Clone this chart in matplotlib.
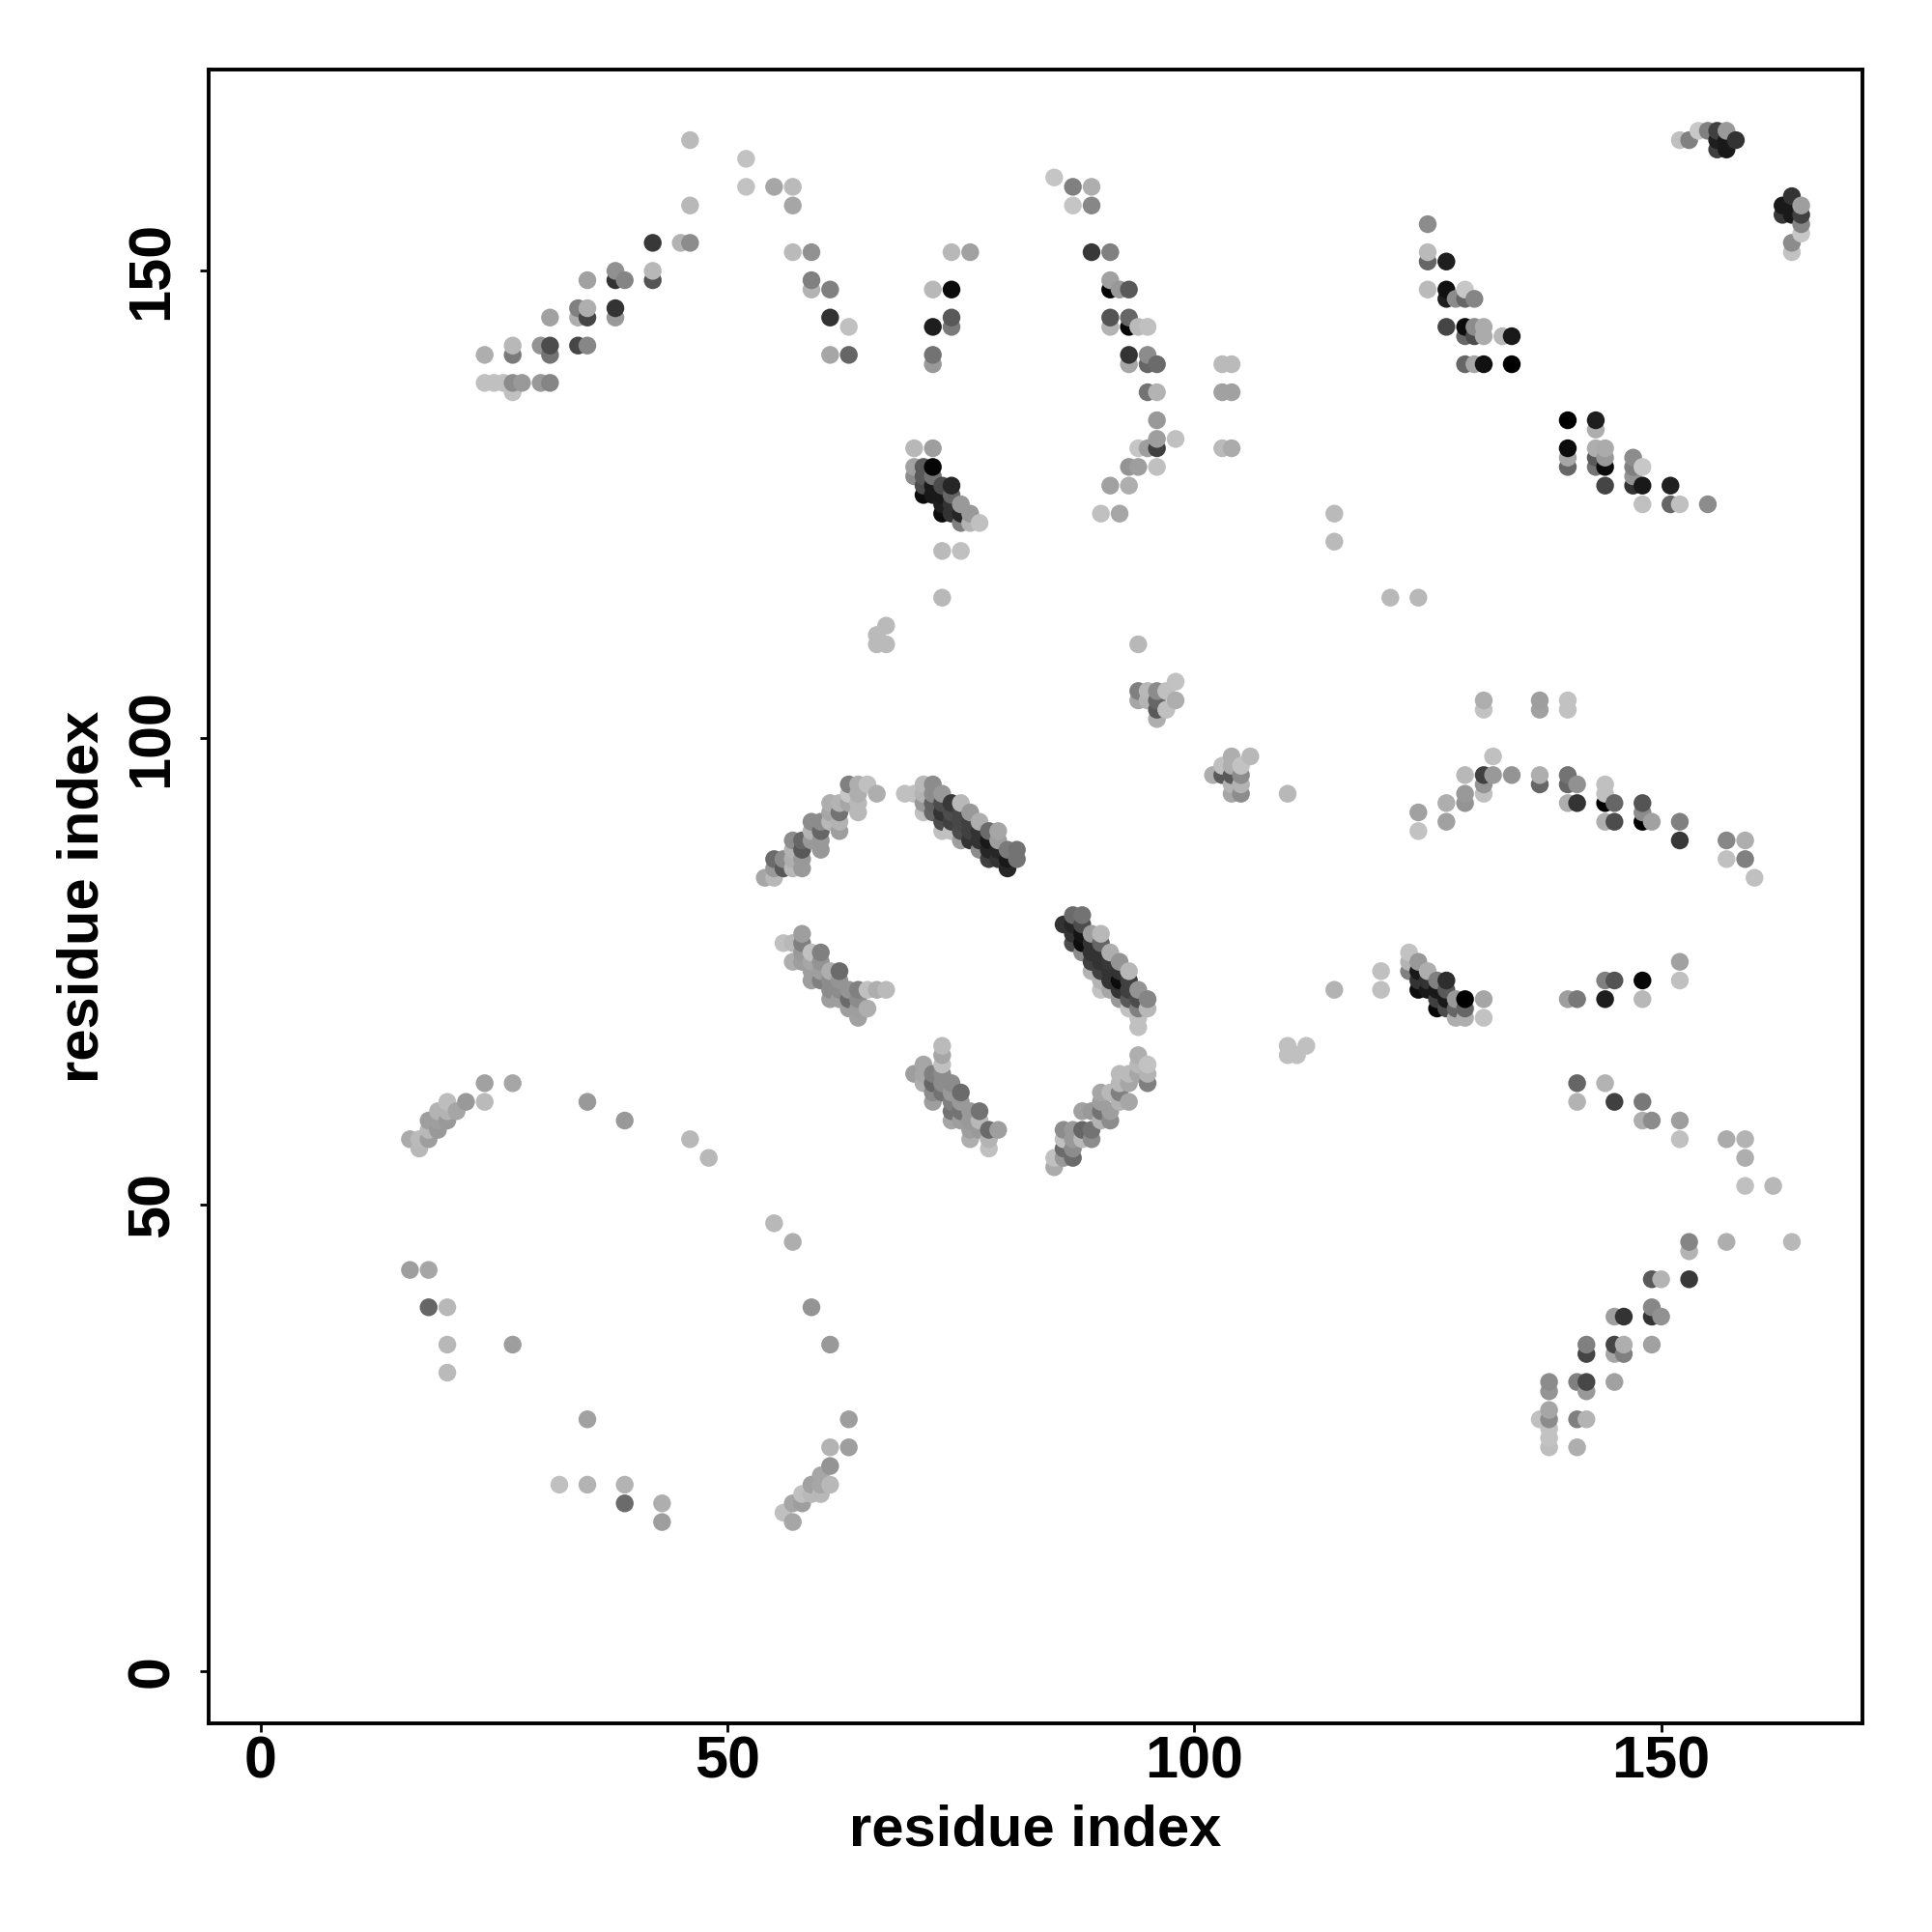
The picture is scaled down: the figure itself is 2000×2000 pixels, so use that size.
import numpy as np
import matplotlib
matplotlib.use("Agg")
import matplotlib.pyplot as plt

plt.rcParams["font.family"] = ["Liberation Sans", "DejaVu Sans"]
plt.rcParams["font.weight"] = "bold"

# (residue i, residue j, grey level), one list per region
upper_left = [
    (46,164,.73),(52,162,.76),(52,159,.76),(55,159,.65),(57,159,.73),(57,157,.65),(46,157,.72),
    (42,153,.22),(45,153,.70),(46,153,.55),(57,152,.73),(59,152,.57),(38,150,.57),(38,149,.2),
    (39,149,.52),(42,149,.33),(42,150,.72),(35,149,.63),(59,149,.5),(59,148,.7),(61,148,.5),
    (34,146,.5),(35,146,.68),(35,145,.27),(34,145,.68),(38,146,.2),(38,145,.6),(61,145,.2),
    (63,144,.75),(31,145,.63),(30,142,.58),(31,142,.3),(31,141,.45),(34,142,.28),(35,142,.53),
    (27,142,.72),(27,141,.48),(24,141,.68),(61,141,.65),(63,141,.4),(24,138,.75),(25,138,.75),
    (26,138,.75),(27,138,.55),(28,138,.6),(30,138,.6),(31,138,.52),(27,137,.75),
]
upper_mid = [
    (85,160,.77),(87,159,.5),(89,159,.68),(87,157,.77),(89,157,.53),(74,152,.72),(76,152,.63),
    (89,152,.22),(91,152,.5),(72,148,.72),(74,148,.05),(91,149,.63),(91,148,.02),(92,148,.6),
    (93,148,.35),(72,144,.12),(74,144,.48),(74,145,.35),(91,145,.33),(91,144,.7),(93,145,.4),
    (93,144,.02),(94,144,.73),(95,144,.75),(72,141,.45),(72,140,.6),(93,141,.2),(93,140,.65),
    (95,141,.55),(95,140,.4),(96,140,.42),(103,140,.73),(104,140,.73),(95,137,.45),(96,137,.7),
    (103,137,.63),(104,137,.63),(96,134,.6),(96,132,.62),(96,131,.25),(98,132,.75),(94,131,.77),
    (95,131,.62),(103,131,.73),(104,131,.67),(93,129,.58),(94,129,.62),(96,129,.75),(91,127,.63),
    (93,127,.68),(90,124,.75),(92,124,.65),
]
helix_top = [
    (70,131,.72),(72,131,.62),(70,129,.63),(71,129,.35),(72,129,.02),(70,128,.55),(71,128,.35),
    (72,128,.45),(71,127,.3),(71,126,.05),(72,127,.1),(72,126,.1),(73,127,.3),(74,127,.15),
    (73,126,.1),(74,126,.4),(73,125,.12),(74,125,.2),(75,125,.6),(73,124,.05),(74,124,.2),
    (75,124,.15),(76,124,.6),(75,123,.5),(76,123,.7),(77,123,.75),(73,120,.73),(75,120,.75),
    (73,115,.72),
]
upper_right = [
    (125,155,.55),(125,152,.73),(125,151,.4),(127,151,.12),(125,148,.73),(127,148,.07),
    (127,147,.12),(128,147,.55),(129,147,.4),(129,148,.78),(130,147,.52),(127,144,.27),
    (129,144,.05),(130,144,.55),(131,144,.67),(129,143,.4),(130,143,.3),(131,143,.67),
    (133,143,.72),(134,143,.1),(129,140,.4),(130,140,.65),(131,140,.07),(134,140,.0),
    (140,134,.0),(143,134,.12),(143,133,.68),(140,131,.05),(140,130,.65),(140,129,.4),
    (143,131,.68),(144,131,.67),(143,130,.35),(144,130,.6),(143,129,.45),(144,129,.05),
    (144,127,.27),(147,130,.55),(147,129,.5),(148,129,.78),(147,128,.58),(147,127,.2),
    (148,127,.1),(151,127,.13),(148,125,.75),(151,125,.4),(152,125,.75),(155,125,.55),
]
corner_top = [
    (152,164,.75),(153,164,.5),(154,165,.78),(155,165,.5),(156,165,.25),(156,164,.12),
    (157,165,.6),(157,164,.1),(156,163,.25),(157,163,.1),(158,164,.2),(164,158,.2),(163,157,.1),
    (164,157,.1),(165,157,.62),(163,156,.22),(164,156,.1),(165,156,.25),(165,155,.52),
    (165,154,.78),(164,153,.55),(164,152,.76),
]
sparse_mid = [
    (115,124,.73),(115,121,.73),(121,115,.72),(124,115,.72),(67,112,.73),(66,111,.73),
    (67,110,.73),(66,110,.73),(94,110,.72),(94,105,.5),(94,104,.65),(95,105,.72),(95,104,.7),
    (96,105,.55),(96,104,.4),(96,103,.35),(96,102,.68),(97,105,.75),(97,103,.75),(98,106,.76),
    (98,104,.68),(102,96,.68),(103,97,.75),(103,96,.35),(104,98,.68),(104,97,.68),(104,96,.35),
    (104,95,.7),(104,94,.65),(105,97,.76),(105,96,.55),(105,95,.7),(105,94,.55),(106,98,.72),
    (110,94,.72),
]
arc_right = [
    (124,92,.63),(124,90,.76),(127,93,.68),(127,91,.63),(129,94,.6),(129,93,.58),(129,96,.72),
    (131,96,.25),(131,95,.58),(131,94,.75),(132,98,.75),(132,96,.6),(134,96,.58),(131,104,.68),
    (131,103,.76),(137,104,.62),(137,103,.63),(140,104,.76),(140,103,.76),(137,96,.68),
    (137,95,.4),(140,96,.45),(140,95,.4),(141,95,.57),(140,93,.68),(141,93,.2),(144,95,.75),
    (144,94,.75),(144,93,.0),(145,93,.4),(144,91,.68),(145,91,.3),(148,93,.33),(148,92,.55),
    (148,91,.0),(149,91,.63),(152,91,.5),(152,89,.22),(157,89,.53),(159,89,.68),(157,87,.75),
    (159,87,.5),(160,85,.75),
]
blob_left = [
    (54,85,.65),(55,85,.72),(55,87,.42),(55,86,.6),(56,87,.55),(56,86,.35),(57,86,.72),
    (57,89,.55),(58,89,.4),(58,88,.35),(58,87,.6),(58,86,.6),(57,88,.7),(57,87,.68),
    (59,91,.55),(60,91,.55),(59,90,.7),(60,90,.4),(59,89,.6),(60,89,.6),(60,88,.6),
    (61,93,.68),(62,93,.7),(61,92,.65),(62,92,.45),(61,91,.72),(62,91,.7),(62,90,.62),
    (63,95,.5),(64,95,.68),(65,95,.75),(63,94,.78),(64,94,.68),(66,94,.68),(63,93,.65),
    (64,93,.72),(64,92,.72),
]
blob_right = [
    (69,94,.75),(70,94,.75),(71,95,.72),(72,95,.55),(73,94,.6),(75,93,.72),(76,92,.6),
    (77,91,.68),(78,90,.42),(79,90,.65),(79,89,.62),(80,88,.48),(81,88,.45),(81,87,.45),
    (80,86,.15),(71,94,.7),(71,93,.6),(72,94,.55),(72,93,.38),(72,92,.4),(71,92,.75),
    (73,93,.3),(73,92,.2),(73,91,.3),(73,90,.75),(74,90,.75),(74,93,.22),(74,92,.3),(74,91,.25),
    (75,92,.28),(75,91,.28),(75,90,.3),(75,89,.62),(76,91,.25),(76,90,.25),(76,89,.2),
    (77,90,.2),(77,89,.2),(77,88,.55),(78,89,.1),(78,88,.15),(78,87,.25),(79,88,.15),
    (79,87,.2),(80,87,.1),
]
blob_a = [
    (56,78,.75),(57,78,.72),(58,79,.62),(58,78,.5),(58,77,.6),(57,76,.68),(58,76,.62),
    (59,77,.75),(60,77,.5),(59,76,.65),(60,76,.58),(59,75,.62),(60,75,.62),(59,74,.62),
    (60,74,.5),(61,75,.68),(62,75,.42),(61,74,.55),(62,74,.58),(61,73,.55),(62,73,.55),
    (61,72,.62),(62,72,.62),(63,73,.58),(64,73,.5),(65,73,.75),(66,73,.68),(67,73,.73),
    (63,72,.42),(64,72,.55),(63,71,.62),(64,71,.62),(65,71,.68),(64,70,.63),
]
blob_b = [
    (70,64,.62),(71,65,.65),(71,64,.65),(71,63,.68),(73,67,.73),(73,66,.65),(73,65,.75),
    (72,64,.5),(73,64,.55),(72,63,.4),(73,63,.55),(72,62,.55),(73,62,.45),(72,61,.62),
    (74,63,.55),(75,62,.42),(74,62,.6),(74,61,.5),(75,61,.6),(74,60,.45),(75,60,.45),
    (74,59,.65),(75,59,.62),(76,60,.6),(77,60,.45),(76,59,.6),(77,59,.72),(76,58,.62),
    (77,58,.6),(78,58,.42),(79,58,.62),(76,57,.68),(78,57,.7),(78,56,.75),
]
blob_c = [
    (85,54,.67),(85,55,.75),(86,55,.6),(87,55,.42),(86,56,.42),(87,56,.55),(86,57,.75),
    (87,57,.6),(86,58,.55),(87,58,.6),(88,58,.4),(89,57,.55),(88,57,.72),(89,58,.45),
    (88,60,.63),(89,60,.6),(90,60,.45),(90,61,.62),(91,59,.55),(91,60,.62),(90,59,.7),
    (90,62,.65),(91,62,.72),(92,62,.5),(92,61,.7),(93,61,.65),(92,63,.72),(92,64,.73),
    (93,64,.73),(93,63,.65),(94,66,.68),(94,65,.72),(94,64,.65),(95,65,.76),(95,64,.7),
    (95,63,.5),
]
blob_d = [
    (86,80,.2),(87,81,.42),(88,81,.45),(87,80,.15),(87,79,.2),(87,78,.3),(88,80,.3),(88,79,.08),
    (88,78,.05),(88,77,.55),(89,79,.62),(90,79,.72),(89,78,.2),(90,78,.4),(89,77,.2),(89,76,.25),
    (89,75,.7),(90,77,.2),(90,76,.2),(90,75,.25),(90,74,.7),(90,73,.76),(91,77,.68),(91,76,.22),
    (91,75,.2),(91,74,.2),(91,73,.65),(92,76,.58),(92,75,.2),(92,74,.05),(92,73,.2),(92,72,.6),
    (93,75,.72),(93,74,.25),(93,73,.25),(93,72,.35),(93,71,.76),(94,73,.58),(94,72,.3),
    (94,71,.5),(94,70,.75),(94,69,.75),(95,72,.52),(95,71,.72),
]
blob_e = [
    (120,75,.75),(120,73,.75),(123,77,.76),(123,76,.7),(123,75,.5),(124,76,.6),(124,75,.1),
    (124,74,.2),(124,73,.05),(125,75,.68),(125,74,.2),(125,73,.1),(126,74,.5),(126,73,.1),
    (126,72,.25),(126,71,.03),(127,74,.18),(127,73,.35),(127,72,.1),(127,71,.3),(128,72,.6),
    (128,71,.4),(128,70,.68),(129,72,.0),(129,71,.4),(129,70,.68),(131,72,.65),(131,70,.76),
    (140,72,.62),(141,72,.47),(144,74,.5),(145,74,.33),(144,72,.12),(148,74,.03),(148,72,.72),
    (152,76,.63),(152,74,.75),(115,73,.7),(110,67,.75),(111,66,.75),(112,67,.75),(110,66,.75),
]
lower_right = [
    (141,63,.4),(141,61,.7),(144,63,.7),(145,61,.25),(148,61,.47),(148,59,.68),(149,59,.55),
    (152,59,.62),(152,57,.75),(157,57,.67),(159,57,.7),(159,55,.68),(159,52,.75),(162,52,.72),
    (153,46,.52),(153,45,.7),(157,46,.68),(164,46,.72),(149,42,.35),(150,42,.7),(153,42,.22),
    (145,38,.62),(146,38,.2),(149,38,.2),(149,39,.53),(150,38,.57),(142,35,.5),(142,34,.27),
    (145,35,.27),(145,34,.65),(146,35,.68),(146,34,.5),(149,35,.63),(138,31,.55),(138,30,.58),
    (141,31,.5),(142,31,.28),(142,30,.6),(145,31,.63),(137,27,.75),(138,28,.65),(138,27,.55),
    (138,26,.76),(138,25,.76),(138,24,.74),(141,27,.5),(142,27,.7),(141,24,.68),
]
lower_left = [
    (24,63,.63),(27,63,.65),(24,61,.73),(22,61,.6),(20,61,.74),(21,60,.65),(19,60,.7),(20,60,.7),
    (18,59,.62),(19,59,.62),(20,59,.6),(19,58,.6),(18,58,.72),(16,57,.67),(17,57,.73),(18,57,.62),
    (17,56,.72),(35,61,.6),(39,59,.6),(46,57,.72),(48,55,.72),(55,48,.72),(16,43,.62),(18,43,.65),
    (18,39,.4),(20,39,.72),(20,35,.72),(27,35,.62),(20,32,.73),(57,46,.68),(59,39,.58),(61,35,.6),
    (35,27,.63),(63,27,.62),(61,24,.7),(63,24,.62),(32,20,.75),(35,20,.7),(39,20,.7),(39,18,.42),
    (43,18,.68),(43,16,.62),(56,17,.75),(57,18,.65),(57,16,.65),(58,19,.75),(58,18,.62),(59,19,.72),
    (59,20,.63),(60,19,.72),(60,20,.65),(61,20,.72),(61,22,.58),(60,21,.65),
]

regions = [upper_left, upper_mid, helix_top, upper_right, corner_top, sparse_mid, arc_right,
           blob_left, blob_right, blob_a, blob_b, blob_c, blob_d, blob_e, lower_right, lower_left]


def main():
    pts = np.array([p for region in regions for p in region])
    # the original draws pairs sorted by i then j, later ones on top
    order = np.lexsort((pts[:, 1], pts[:, 0]))
    pts = pts[order]

    fig = plt.figure(figsize=(10, 10), dpi=200)
    ax = fig.add_axes([0.108, 0.108, 0.856, 0.856])

    ax.scatter(
        pts[:, 0], pts[:, 1],
        c=pts[:, 2], cmap="gray", vmin=0, vmax=1,
        s=44, linewidths=0, clip_on=True
    )

    ax.set_xlim(-5.56, 171.56)
    ax.set_ylim(-5.56, 171.56)
    ax.set_xticks([0, 50, 100, 150])
    ax.set_yticks([0, 50, 100, 150])
    ax.tick_params(axis="both", length=3.4, width=1.0, labelsize=22)
    ax.tick_params(axis="x", pad=1)
    ax.tick_params(axis="y", pad=7)
    for label in ax.get_yticklabels():
        label.set_rotation(90)
        label.set_va("center")

    for spine in ax.spines.values():
        spine.set_linewidth(1.4)

    ax.set_xlabel("residue index", fontsize=21.5, fontweight="bold", labelpad=5)
    ax.set_ylabel("residue index", fontsize=21.5, fontweight="bold", labelpad=6)

    fig.savefig("out.png", dpi=200)
    plt.close(fig)


if __name__ == "__main__":
    main()
